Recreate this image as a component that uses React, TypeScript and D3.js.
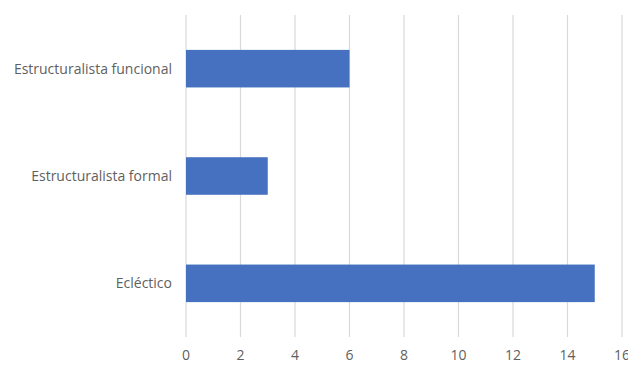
import React from "react";
import * as d3 from "d3";

const categories = ["Estructuralista funcional", "Estructuralista formal", "Ecléctico"];
const values = [6, 3, 15];
const ticks = [0, 2, 4, 6, 8, 10, 12, 14, 16];

export default function App() {
  const W = 628, H = 365;
  const x = d3.scaleLinear().domain([0, 16]).range([186, 622]);
  const y = d3.scaleBand().domain(categories).range([15, 337]).paddingInner(0.65).paddingOuter(0.325);
  const font = "'Open Sans', 'Liberation Sans', sans-serif";
  return (
    <svg width={W} height={H} style={{ position: "absolute", left: 0, top: 0, background: "#fff" }}>
      {ticks.map((t) => (
        <line key={"g" + t} x1={x(t)} x2={x(t)} y1={15} y2={337} stroke="#d9d9d9" strokeWidth={1.2} />
      ))}
      {categories.map((c, i) => (
        <rect key={c} x={x(0)} y={y(c)!} width={x(values[i]) - x(0)} height={y.bandwidth()} fill="#4671c0" />
      ))}
      {categories.map((c) => (
        <text key={"l" + c} x={172} y={y(c)! + y.bandwidth() / 2} dy="0.35em" textAnchor="end"
          fontFamily={font} fontSize={14} fill="#5f5f5f">{c}</text>
      ))}
      {ticks.map((t) => (
        <text key={"t" + t} x={x(t)} y={355} dy="0.35em" textAnchor="middle"
          fontFamily={font} fontSize={14} fill="#5f5f5f">{t}</text>
      ))}
    </svg>
  );
}
